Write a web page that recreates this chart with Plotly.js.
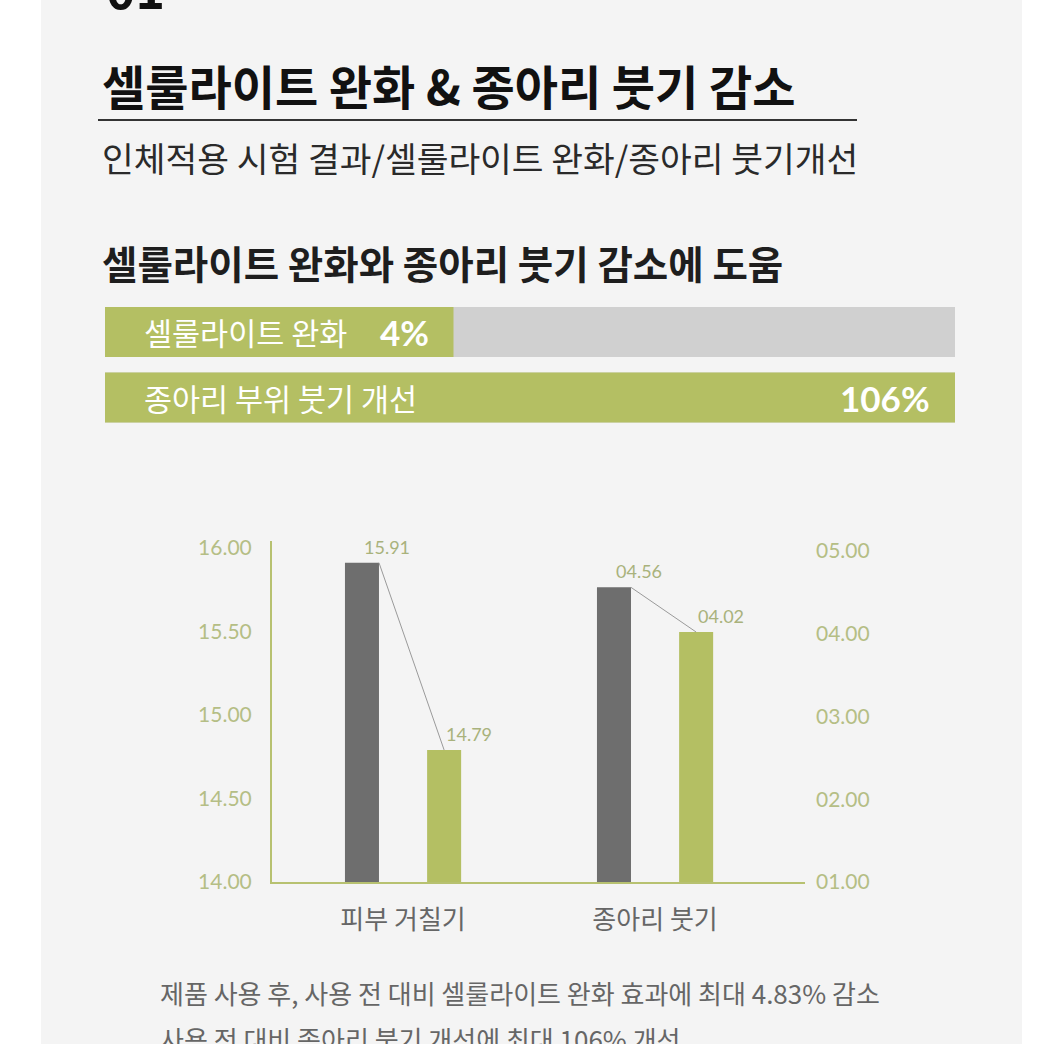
<!DOCTYPE html>
<html>
<head>
<meta charset="utf-8">
<script src="https://cdn.plot.ly/plotly-3.0.1.min.js"></script>
<style>
  html, body { margin: 0; padding: 0; background: #ffffff; }
  #chart { width: 1044px; height: 1044px; }
</style>
</head>
<body>
<div id="chart"></div>
<script>
// ---------- data ----------
const categories = ['피부 거칠기', '종아리 붓기'];
const beforeValues = [15.91, 4.56];   // gray bars (before use)
const afterValues = [14.79, 4.02];    // green bars (after use)
const leftTickVals = [14, 14.5, 15, 15.5, 16];
const rightTickVals = [1, 2, 3, 4, 5];

const progressLabels = ['셀룰라이트 완화', '종아리 부위 붓기 개선'];
const progressPercents = [4, 106];
const progressFill = [0.41, 1.0];     // drawn fill share of the track
const progressTrack = [1, 1];

const sectionNumber = '01';
const titleText = '셀룰라이트 완화 & 종아리 붓기 감소';
const subtitleText = '인체적용 시험 결과/셀룰라이트 완화/종아리 붓기개선';
const headingText = '셀룰라이트 완화와 종아리 붓기 감소에 도움';
const footerLines = [
  '제품 사용 후, 사용 전 대비 셀룰라이트 완화 효과에 최대 4.83% 감소',
  '사용 전 대비 종아리 붓기 개선에 최대 106% 개선'
];

// ---------- styles ----------
const W = 1044, H = 1044;
const px = v => v / W;
const py = v => 1 - v / H;
const KR = '"Noto Sans CJK KR", "Noto Sans", sans-serif';
const NUM = 'Lato, "Open Sans", sans-serif';
const GRAY_BAR = '#6e6e6e';
const GREEN = '#b4bf63';
const AXIS_GREEN = '#b7c170';
const NUM_COLOR = '#b5be85';
const LABEL_COLOR = '#a9b27c';

const barW = 0.135;
const half = 0.163;       // distance of bar centre from category centre
const axisFor = ['y', 'y2'];

const traces = [];
categories.forEach((c, i) => {
  traces.push({
    type: 'bar', x: [i], y: [beforeValues[i]], xaxis: 'x', yaxis: axisFor[i],
    width: barW, offset: -half - barW / 2,
    marker: { color: GRAY_BAR, line: { width: 0 } }, hoverinfo: 'skip', showlegend: false
  });
  traces.push({
    type: 'bar', x: [i], y: [afterValues[i]], xaxis: 'x', yaxis: axisFor[i],
    width: barW, offset: half - barW / 2,
    marker: { color: GREEN, line: { width: 0 } }, hoverinfo: 'skip', showlegend: false
  });
  traces.push({
    type: 'scatter', mode: 'lines', xaxis: 'x', yaxis: axisFor[i],
    x: [i - half + barW / 2, i + half], y: [beforeValues[i], afterValues[i]],
    line: { color: '#9a9a9a', width: 1 }, hoverinfo: 'skip', showlegend: false
  });
});

traces.push({
  type: 'bar', orientation: 'h', x: progressTrack, y: progressLabels,
  xaxis: 'x3', yaxis: 'y3', marker: { color: '#d0d0d0', line: { width: 0 } },
  hoverinfo: 'skip', showlegend: false
});
traces.push({
  type: 'bar', orientation: 'h', x: progressFill, y: progressLabels,
  xaxis: 'x3', yaxis: 'y3', marker: { color: GREEN, line: { width: 0 } },
  hoverinfo: 'skip', showlegend: false
});

const annotations = [];
// section number (cut off at top, as in the reference)
annotations.push({ xref: 'paper', yref: 'paper', x: px(104), y: py(25), xanchor: 'left', yanchor: 'bottom',
  text: '<b>' + sectionNumber + '</b>', showarrow: false, font: { family: KR, size: 50, color: '#111' } });
annotations.push({ xref: 'paper', yref: 'paper', x: px(100), y: py(84), xanchor: 'left', yanchor: 'middle',
  text: '<b>' + titleText + '</b>', showarrow: false, font: { family: KR, size: 47, color: '#111' } });
annotations.push({ xref: 'paper', yref: 'paper', x: px(100), y: py(157), xanchor: 'left', yanchor: 'middle',
  text: subtitleText, showarrow: false, font: { family: KR, size: 34.5, color: '#2a2a2a' } });
annotations.push({ xref: 'paper', yref: 'paper', x: px(100), y: py(262), xanchor: 'left', yanchor: 'middle',
  text: '<b>' + headingText + '</b>', showarrow: false, font: { family: KR, size: 38.5, color: '#1e1e1e' } });

progressLabels.forEach((lab, i) => {
  annotations.push({ xref: 'x3', yref: 'y3', x: 0, y: lab, xanchor: 'left', yanchor: 'middle', xshift: 37,
    text: lab, showarrow: false, font: { family: KR, size: 30.5, color: '#ffffff' } });
  annotations.push({ xref: 'x3', yref: 'y3', x: progressFill[i], y: lab, xanchor: 'right', yanchor: 'middle', xshift: -23,
    text: '<b>' + progressPercents[i] + '%</b>', showarrow: false, font: { family: NUM, size: 35, color: '#ffffff' } });
});

const fmt = (v, i) => i === 0 ? v.toFixed(2) : v.toFixed(2).padStart(5, '0');
categories.forEach((c, i) => {
  const yr = axisFor[i];
  annotations.push({ xref: 'x', yref: yr, x: i - half, y: beforeValues[i], xanchor: 'left', yanchor: 'bottom', yshift: 3,
    text: fmt(beforeValues[i], i), showarrow: false, font: { family: NUM, size: 18, color: LABEL_COLOR } });
  annotations.push({ xref: 'x', yref: yr, x: i + half, y: afterValues[i], xanchor: 'left', yanchor: 'bottom', yshift: 3,
    text: fmt(afterValues[i], i), showarrow: false, font: { family: NUM, size: 18, color: LABEL_COLOR } });
});

footerLines.forEach((t, i) => {
  annotations.push({ xref: 'paper', yref: 'paper', x: px(158), y: py(992 + i * 46), xanchor: 'left', yanchor: 'middle',
    text: t, showarrow: false, font: { family: KR, size: 26, color: '#666666' } });
});

const layout = {
  width: W, height: H,
  margin: { l: 0, r: 0, t: 0, b: 0, pad: 0 },
  paper_bgcolor: '#ffffff', plot_bgcolor: 'rgba(0,0,0,0)',
  barmode: 'overlay', bargap: 0.237, showlegend: false,
  shapes: [
    { type: 'rect', xref: 'paper', yref: 'paper', x0: px(41), x1: px(1022), y0: 0, y1: 1,
      fillcolor: '#f4f4f4', line: { width: 0 }, layer: 'below' },
    { type: 'line', xref: 'paper', yref: 'paper', x0: px(98), x1: px(857), y0: py(120), y1: py(120),
      line: { color: '#333333', width: 2 } }
  ],
  xaxis: {
    domain: [px(272), px(805)], range: [-0.52, 1.595], anchor: 'y',
    tickvals: categories.map((c, i) => i), ticktext: categories,
    showline: true, linecolor: AXIS_GREEN, linewidth: 2, showgrid: false, zeroline: false,
    ticks: '', ticklabelstandoff: 14, tickfont: { family: KR, size: 26, color: '#666666' }, fixedrange: true
  },
  yaxis: {
    domain: [py(882), py(541)], range: [14, 16.04], anchor: 'x',
    tickvals: leftTickVals, tickformat: '.2f',
    showline: true, linecolor: AXIS_GREEN, linewidth: 2, showgrid: false, zeroline: false,
    ticks: '', ticklabelstandoff: 14, tickfont: { family: NUM, size: 21, color: NUM_COLOR }
  },
  yaxis2: {
    overlaying: 'y', side: 'right', anchor: 'x', range: [1, 5.12],
    tickvals: rightTickVals, tickformat: '05.2f',
    showline: false, showgrid: false, zeroline: false,
    ticks: '', ticklabelstandoff: 10, tickfont: { family: NUM, size: 21, color: NUM_COLOR }
  },
  xaxis3: {
    domain: [px(105), px(955)], range: [0, 1], anchor: 'y3',
    visible: false, showgrid: false, zeroline: false
  },
  yaxis3: {
    domain: [py(430.25), py(299.25)], anchor: 'x3', type: 'category', autorange: 'reversed',
    visible: false, showgrid: false, zeroline: false
  },
  annotations: annotations
};

Plotly.newPlot('chart', traces, layout, { staticPlot: true, displayModeBar: false });
</script>
</body>
</html>
